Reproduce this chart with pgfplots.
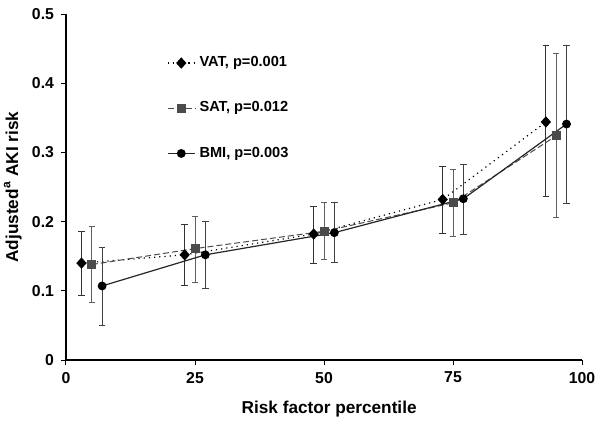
\documentclass[border=0pt]{standalone}
\usepackage{fontspec}
\setmainfont{Liberation Sans}
\usepackage{pgfplots}
\pgfplotsset{compat=1.18}
\usepackage{pgfplotstable}

\definecolor{satgray}{RGB}{75,75,75}
\definecolor{errgray}{RGB}{95,95,95}

% x, estimate, lower, upper
\pgfplotstableread{
x  y     lo    hi
3  0.140 0.093 0.186
23 0.152 0.107 0.196
48 0.182 0.140 0.222
73 0.232 0.183 0.280
93 0.344 0.236 0.454
}\vat
\pgfplotstableread{
x  y     lo    hi
5  0.138 0.083 0.193
25 0.161 0.112 0.208
50 0.186 0.145 0.228
75 0.227 0.178 0.275
95 0.324 0.206 0.443
}\sat
\pgfplotstableread{
x  y     lo    hi
7  0.107 0.050 0.163
27 0.152 0.104 0.200
52 0.184 0.141 0.227
77 0.233 0.182 0.282
97 0.341 0.226 0.455
}\bmi

\begin{document}
\begin{tikzpicture}
\begin{axis}[
  scale only axis,
  width=258pt, height=173pt,
  xmin=0, xmax=100, ymin=0, ymax=0.5,
  axis lines=left,
  axis line style={-, line width=0.6pt},
  tick align=outside,
  major tick length=2.5pt,
  tick style={black, line width=0.5pt},
  xtick={0,25,50,75,100},
  xticklabels={0,25,50,75,100},
  ytick={0,0.1,0.2,0.3,0.4,0.5},
  yticklabels={0,0.1,0.2,0.3,0.4,0.5},
  tick label style={font=\fontsize{7.9}{9}\selectfont\bfseries},
  xlabel={Risk factor percentile},
  ylabel={Adjusted\textsuperscript{a} AKI risk},
  every axis x label/.style={at={(axis description cs:0.51,-0.1416)}, anchor=center,
    font=\fontsize{8.6}{9}\selectfont\bfseries},
  every axis y label/.style={at={(axis description cs:-0.103,0.5)}, rotate=90, anchor=center,
    font=\fontsize{8.6}{9}\selectfont\bfseries},
  legend style={draw=none, fill=none, at={(rel axis cs:0.195,0.89)}, anchor=north west,
    font=\fontsize{7.3}{8}\selectfont\bfseries, row sep=12pt, inner sep=0pt,
    /tikz/every even column/.append style={column sep=1pt}},
  legend cell align=left,
  legend image code/.code={\draw[mark repeat=2, mark phase=2] plot coordinates {(0cm,0cm) (0.24cm,0cm) (0.48cm,0cm)};},
  error bars/y dir=both,
  error bars/y explicit,
]
\addplot[black, line width=0.6pt, dotted, mark=diamond*, mark size=2.4pt, mark options={solid, black, xscale=1.2},
  error bars/error bar style={black!80, line width=0.5pt, solid},
  error bars/error mark options={black!80, line width=0.5pt, mark size=1.6pt, rotate=90}]
  table[x=x, y=y, y error plus expr=\thisrow{hi}-\thisrow{y}, y error minus expr=\thisrow{y}-\thisrow{lo}] {\vat};
\addlegendentry{VAT, p=0.001}
\addplot[satgray, line width=0.5pt, dash pattern=on 3pt off 1.5pt, mark=square*, mark size=2pt, mark options={solid, satgray},
  error bars/error bar style={errgray, line width=0.5pt, solid},
  error bars/error mark options={errgray, line width=0.5pt, mark size=1.6pt, rotate=90}]
  table[x=x, y=y, y error plus expr=\thisrow{hi}-\thisrow{y}, y error minus expr=\thisrow{y}-\thisrow{lo}] {\sat};
\addlegendentry{SAT, p=0.012}
\addplot[black!85, line width=0.6pt, mark=*, mark size=1.9pt, mark options={solid, black},
  error bars/error bar style={black!75, line width=0.5pt, solid},
  error bars/error mark options={black!75, line width=0.5pt, mark size=1.6pt, rotate=90}]
  table[x=x, y=y, y error plus expr=\thisrow{hi}-\thisrow{y}, y error minus expr=\thisrow{y}-\thisrow{lo}] {\bmi};
\addlegendentry{BMI, p=0.003}
\end{axis}
\pgfresetboundingbox
\path[use as bounding box] ([shift={(-33pt,-34.5pt)}]current axis.south west) rectangle ([shift={(10pt,7pt)}]current axis.north east);
\end{tikzpicture}
\end{document}
